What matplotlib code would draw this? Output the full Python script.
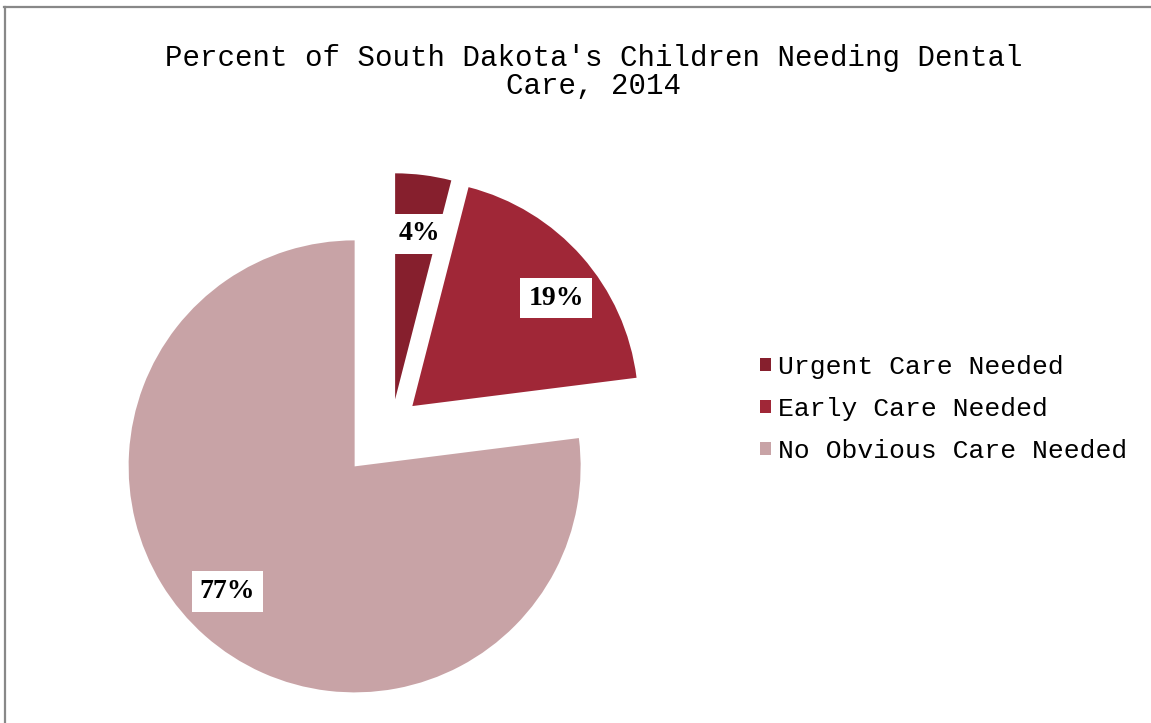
import matplotlib
matplotlib.use('Agg')
import matplotlib.pyplot as plt
from matplotlib.lines import Line2D
import numpy as np

# dental screening results, 2014
categories = ['Urgent Care Needed', 'Early Care Needed', 'No Obvious Care Needed']
percent = [4, 19, 77]
colors = ['#861F2D', '#A02737', '#C8A3A6']
explode = [0.11, 0.12, 0.25]
label_dist = [0.74, 0.795, 0.79]
label_turn = [1.0, 4.5, 4.0]   # degrees clockwise from the wedge bisector

title = "Percent of South Dakota's Children Needing Dental\nCare, 2014"

W, H = 1151, 723
fig = plt.figure(figsize=(W / 100, H / 100), dpi=100)

# square axes, pie radius 1 -> ~226 px
ax = fig.add_axes([98.2 / W, 5.2 / H, 587.6 / W, 587.6 / H])
wedges, texts, autotexts = ax.pie(
    percent, colors=colors, explode=explode, startangle=90,
    counterclock=False, autopct='%1.0f%%',
    wedgeprops=dict(linewidth=0),
    textprops=dict(family='Liberation Serif', fontweight='bold',
                   fontsize=20, color='black'))
for w, t, d, turn in zip(wedges, autotexts, label_dist, label_turn):
    cx, cy = w.center
    ang = np.deg2rad((w.theta1 + w.theta2) / 2 - turn)
    t.set_position((cx + d * np.cos(ang), cy + d * np.sin(ang)))
    t.set_bbox(dict(boxstyle='square,pad=0.28', fc='white', ec='none'))
ax.set_xlim(-1.3, 1.3)
ax.set_ylim(-1.3, 1.3)
ax.set_aspect('equal')
ax.axis('off')
for w in wedges:
    w.set_clip_on(False)

fig.text(594 / W, 1 - 72 / H, title, ha='center', va='center',
         family='Liberation Mono', fontsize=21, linespacing=1.0)

leg = fig.legend(wedges, categories, loc='upper left',
                 bbox_to_anchor=(760 / W, 1 - 355 / H),
                 frameon=False, borderpad=0, borderaxespad=0,
                 handlelength=0.42, handleheight=0.42, handletextpad=0.25,
                 labelspacing=0.68,
                 prop=dict(family='Liberation Mono', size=19))

# outer frame (top and left edges only)
fig.add_artist(Line2D([4 / W, 1], [1 - 6.5 / H, 1 - 6.5 / H],
                      transform=fig.transFigure, color='#888888', lw=1.6))
fig.add_artist(Line2D([4.5 / W, 4.5 / W], [0, 1 - 6.5 / H],
                      transform=fig.transFigure, color='#888888', lw=1.6))

fig.savefig('out.png', dpi=100, facecolor='white')
